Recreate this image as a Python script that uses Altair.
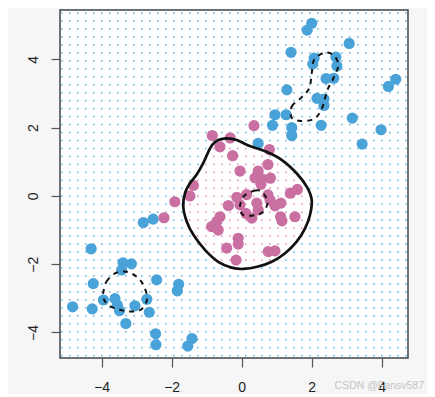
import altair as alt
import numpy as np
import pandas as pd

# ---- observed points ----
blue_x = [2.00, 1.87, 3.07, 1.41, 2.07, 2.03, 2.69, 2.72, 2.41, 2.63, 1.29, 4.19, 4.40, 2.15, 2.35, 2.35,
          0.95, 1.27, 0.88, 1.43, 1.43, 2.27, 3.16, 3.98, 3.44, 0.47,
          -2.81, -2.53, -4.30, -3.39, -3.15, -3.43, -4.24, -2.43, -1.80, -1.84, -4.83, -4.27, -3.95,
          -3.62, -3.55, -3.49, -3.05, -2.71, -2.64, -3.31, -2.46, -2.45, -1.42, -1.54]
blue_y = [5.06, 4.86, 4.47, 4.21, 4.04, 3.87, 4.07, 3.81, 3.44, 3.45, 3.11, 3.21, 3.42, 2.86, 2.84, 2.65,
          2.38, 2.38, 2.07, 2.00, 1.77, 2.07, 2.28, 1.94, 1.52, 1.54,
          -0.78, -0.68, -1.55, -1.96, -1.99, -2.17, -2.57, -2.46, -2.59, -2.78, -3.25, -3.31, -3.05,
          -3.01, -3.20, -3.36, -3.22, -3.03, -3.41, -3.74, -4.04, -4.36, -4.18, -4.40]
pink_x = [-0.84, -0.33, -0.62, -0.26, 0.79, 0.35, 0.75, -0.05, 0.47, 0.38,
          0.58, 0.82, 0.55, -1.38, -1.48, -0.14, 0.14, 0.75, 1.59, 1.39,
          -0.38, -0.05, 0.43, 0.47, 0.29, 0.81, 0.95, 1.12, 1.11, 1.15,
          1.52, -0.62, -0.71, -0.86, -0.67, -0.10, -0.10, -0.43, 0.76, 0.95,
          -0.16, 0.12, -1.91, -2.22]
pink_y = [1.77, 1.70, 1.44, 1.18, 1.36, 2.06, 0.92, 0.73, 0.73, 0.53,
          0.50, 0.52, 0.34, 0.31, 0.00, -0.04, 0.04, 0.03, 0.19, 0.08,
          -0.28, -0.26, -0.21, -0.41, -0.65, -0.12, -0.29, -0.21, -0.61, -0.73,
          -0.61, -0.61, -0.75, -0.90, -1.00, -1.24, -1.41, -1.53, -1.63, -1.61,
          -1.88, -0.51, -0.17, -0.64]

# ---- fitted boundary (solid) ----
bound_x = [-0.95, -0.84, -0.67, -0.43, -0.14, 0.19, 0.69, 1.15, 1.58, 1.87, 2.00, 1.95, 1.81, 1.57,
           1.24, 0.86, 0.47, 0.05, -0.29, -0.67, -1.05, -1.38, -1.57, -1.67, -1.62, -1.48, -1.29, -1.10]
bound_y = [1.30, 1.50, 1.64, 1.69, 1.64, 1.48, 1.30, 1.05, 0.65, 0.25, -0.12, -0.56, -0.95, -1.34,
           -1.68, -1.93, -2.07, -2.14, -2.10, -1.93, -1.58, -1.14, -0.75, -0.31, 0.08, 0.37, 0.62, 0.96]

# ---- Bayes boundaries (dashed) ----
dash_tr_x = [1.43, 1.43, 1.71, 1.93, 2.00, 2.07, 2.36, 2.62, 2.76, 2.62, 2.45, 2.33, 2.19, 2.00, 1.67]
dash_tr_y = [2.29, 2.62, 2.89, 3.16, 3.60, 3.99, 4.20, 4.13, 3.84, 3.45, 3.11, 2.67, 2.38, 2.23, 2.20]
dash_bl_x = [-3.95, -3.86, -3.62, -3.29, -3.00, -2.81, -2.70, -2.86, -3.19, -3.53, -3.81, -3.95]
dash_bl_y = [-2.81, -2.51, -2.27, -2.22, -2.37, -2.61, -3.00, -3.32, -3.39, -3.32, -3.20, -3.00]
dash_c_x = [0.19, 0.38, 0.57, 0.74, 0.62, 0.38, 0.05, -0.05, 0.05]
dash_c_y = [0.08, 0.16, 0.13, -0.17, -0.46, -0.56, -0.56, -0.31, -0.02]

x_domain = [-5.19, 4.75]
y_domain = [-4.75, 5.45]
grid_x_lim = [-5.14, 4.69]
grid_y_lim = [-4.68, 5.36]
grid_n = 44
tick_vals = [-4, -2, 0, 2, 4]
watermark = "CSDN @Fansv587"

BLUE = "#4aa3d8"
PINK = "#c96fa1"


def inside(px, py, vx, vy):
    vx = np.asarray(vx, float)
    vy = np.asarray(vy, float)
    res = np.zeros(px.shape, bool)
    j = len(vx) - 1
    for i in range(len(vx)):
        cond = ((vy[i] > py) != (vy[j] > py)) & (
            px < (vx[j] - vx[i]) * (py - vy[i]) / (vy[j] - vy[i] + 1e-12) + vx[i])
        res ^= cond
        j = i
    return res


gx, gy = np.meshgrid(np.linspace(*grid_x_lim, grid_n), np.linspace(*grid_y_lim, grid_n))
gx = gx.ravel()
gy = gy.ravel()
gin = inside(gx, gy, bound_x, bound_y)
grid_df = pd.DataFrame({"x": gx, "y": gy, "cls": np.where(gin, "pink", "blue")})

pts_df = pd.concat([
    pd.DataFrame({"x": blue_x, "y": blue_y, "cls": "blue"}),
    pd.DataFrame({"x": pink_x, "y": pink_y, "cls": "pink"}),
])


def path_df(xs, ys, name):
    return pd.DataFrame({"x": xs, "y": ys, "order": range(len(xs)), "grp": name})


solid_df = path_df(bound_x, bound_y, "solid")
dash_df = pd.concat([
    path_df(dash_tr_x, dash_tr_y, "tr"),
    path_df(dash_bl_x, dash_bl_y, "bl"),
    path_df(dash_c_x, dash_c_y, "c"),
])

xs = alt.Scale(domain=x_domain, nice=False, zero=False)
ys = alt.Scale(domain=y_domain, nice=False, zero=False)
color_scale = alt.Scale(domain=["blue", "pink"], range=[BLUE, PINK])

x_axis = alt.Axis(values=tick_vals, grid=False, domain=False, tickSize=9, tickColor="#555",
                  tickWidth=1.2, labelFontSize=14, labelFont="Liberation Sans", labelColor="#222",
                  labelPadding=13, title=None)
y_axis = alt.Axis(values=tick_vals, grid=False, domain=False, tickSize=9, tickColor="#555",
                  tickWidth=1.2, labelFontSize=14, labelFont="Liberation Sans", labelColor="#222",
                  labelPadding=14, labelAngle=-90, labelAlign="center",
                  labelBaseline="alphabetic", title=None)

X = alt.X("x:Q", scale=xs, axis=x_axis)
Y = alt.Y("y:Q", scale=ys, axis=y_axis)

grid_layer = alt.Chart(grid_df).mark_square(size=3, opacity=0.75).encode(
    x=X, y=Y, color=alt.Color("cls:N", scale=alt.Scale(domain=["blue", "pink"],
                                                       range=["#5aaad8", "#d486b0"]), legend=None))

pts_layer = alt.Chart(pts_df).mark_circle(size=125, opacity=1).encode(
    x=X, y=Y, color=alt.Color("cls:N", scale=color_scale, legend=None))

solid_layer = alt.Chart(solid_df).mark_line(
    color="#111", strokeWidth=2.7, interpolate="cardinal-closed").encode(
    x=X, y=Y, order="order:Q", detail="grp:N")

dash_layer = alt.Chart(dash_df).mark_line(
    color="#111", strokeWidth=2, strokeDash=[5, 5], interpolate="cardinal-closed").encode(
    x=X, y=Y, order="order:Q", detail="grp:N")

wm = alt.Chart(pd.DataFrame({"t": [watermark]})).mark_text(
    align="right", baseline="middle", fontSize=10.5, color="#c4c4c4", font="Liberation Sans").encode(
    text="t:N", x=alt.value(364), y=alt.value(376))

chart = alt.layer(grid_layer, pts_layer, solid_layer, dash_layer, wm).resolve_scale(
    color="independent").properties(
    width=348, height=348,
    autosize=alt.AutoSizeParams(type="none"),
    padding={"left": 52, "top": 2, "right": 19, "bottom": 36},
    background="#f6f6f6",
).configure_view(stroke="#444", strokeWidth=1.5, fill="white")

chart.save("out.html", embed_options={"renderer": "svg", "actions": False})
